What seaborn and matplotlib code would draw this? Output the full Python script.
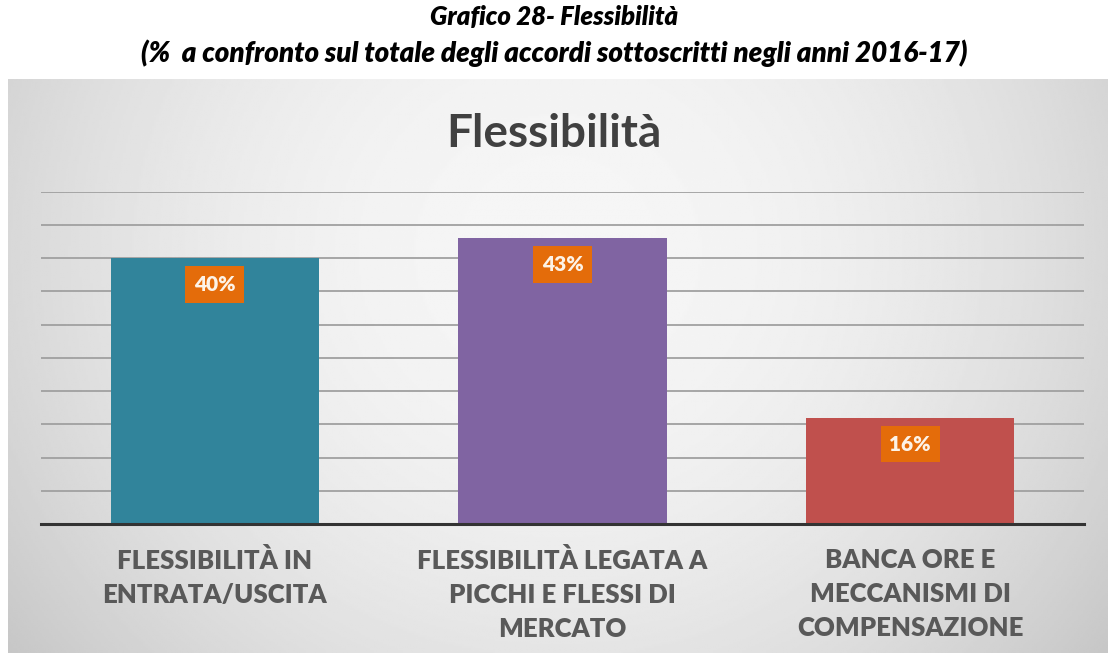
import numpy as np
import matplotlib
matplotlib.use("Agg")
import matplotlib.pyplot as plt
import seaborn as sns

categories = ["FLESSIBILITÀ IN\nENTRATA/USCITA",
              "FLESSIBILITÀ LEGATA A\nPICCHI E FLESSI DI\nMERCATO",
              "BANCA ORE E\nMECCANISMI DI\nCOMPENSAZIONE"]
values = [40, 43, 16]
colors = ["#31849B", "#8064A2", "#C0504D"]

sns.set_theme(style="white")
plt.rcParams['font.family'] = ['Lato', 'DejaVu Sans']

W, H = 1108, 653
fig = plt.figure(figsize=(W / 100, H / 100), dpi=100)
fig.patch.set_facecolor("white")

# sfondo sfumato del grafico
bg = fig.add_axes([8 / W, 0, (W - 8) / W, (H - 79) / H])
yy, xx = np.mgrid[0:1:300j, 0:1:500j]
r = np.sqrt(((xx - 0.5) / 0.6) ** 2 + ((yy - 0.3) / 1.1) ** 2)
bg.imshow(0.965 - 0.17 * r ** 2, cmap="gray", vmin=0, vmax=1, aspect="auto",
          extent=[0, 1, 0, 1], origin="upper")
bg.axis("off")

# titolo esterno
fig.text(0.5, 1 - 17 / H, "Grafico 28- Flessibilità", ha="center", va="center",
         fontsize=18.5, fontweight="heavy", style="italic", color="black")
fig.text(0.5, 1 - 53 / H,
         "(%  a confronto sul totale degli accordi sottoscritti negli anni 2016-17)",
         ha="center", va="center", fontsize=20, fontweight="heavy", style="italic",
         color="black")

ax = fig.add_axes([41 / W, (H - 524) / H, (1084 - 41) / W, (524 - 191.7) / H])
ax.set_facecolor("none")
sns.barplot(x=list(range(len(values))), y=values, hue=list(range(len(values))),
            palette=colors, legend=False, width=0.6, ax=ax, saturation=1, zorder=3,
            edgecolor="none", linewidth=0)
ax.set_xlim(-0.5, len(values) - 0.5)
ax.set_ylim(0, 50)
ax.set_yticks(np.arange(0, 51, 5))
ax.yaxis.grid(True, color="#a0a0a0", linewidth=1.3)
ax.set_axisbelow(True)
ax.tick_params(axis="y", left=False, labelleft=False)
ax.tick_params(axis="x", bottom=False, pad=11)
for s in ["top", "right", "left"]:
    ax.spines[s].set_visible(False)
ax.spines["bottom"].set_color("#333333")
ax.spines["bottom"].set_linewidth(2.2)
ax.spines["bottom"].set_zorder(4)
ax.set_xticks(range(len(categories)))
ax.set_xticklabels(categories, fontsize=18.5, fontweight="heavy", color="#595959",
                   linespacing=1.5)
ax.set_xlabel("")
ax.set_ylabel("")

for rect in ax.patches:
    h = rect.get_height()
    ax.annotate("%d%%" % int(h), xy=(rect.get_x() + rect.get_width() / 2, h),
                xytext=(0, -19), textcoords="offset points", ha="center", va="center",
                fontsize=15, fontweight="heavy", color="#FDF3E7", zorder=5,
                bbox=dict(boxstyle="square,pad=0.42", fc="#E46C0A", ec="none"))

fig.text(0.5, 1 - 134 / H, "Flessibilità", ha="center", va="center",
         fontsize=33, fontweight="bold", color="#404040")

fig.savefig("out.png", dpi=100)
